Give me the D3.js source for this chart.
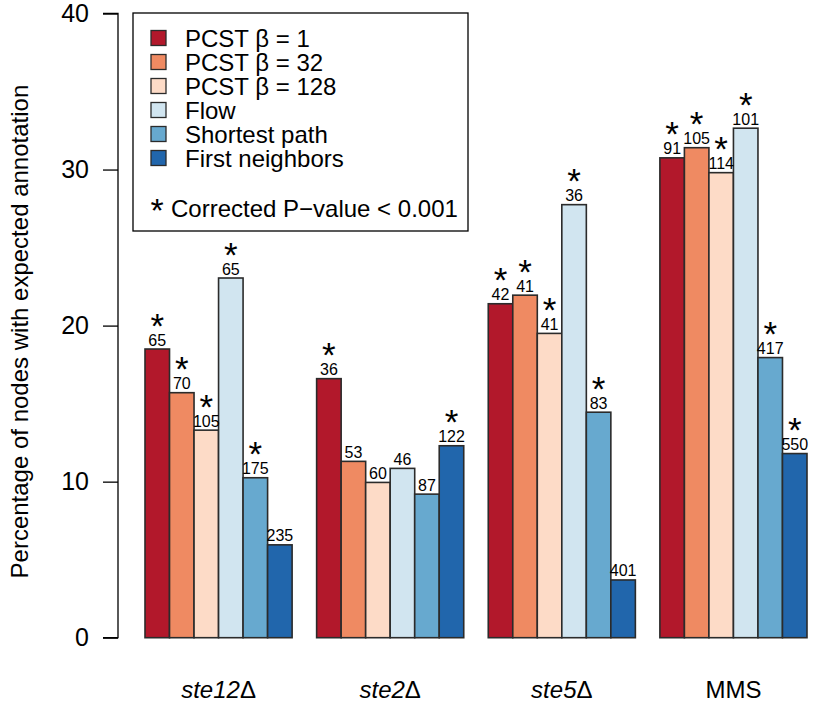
<!DOCTYPE html>
<html>
<head>
<meta charset="utf-8">
<script src="https://cdn.jsdelivr.net/npm/d3@7"></script>
<style>
  html, body { margin: 0; padding: 0; background: #fff; }
  svg text { font-family: "Liberation Sans", Arial, Helvetica, sans-serif; }
</style>
</head>
<body>
<svg id="chart" width="818" height="705"></svg>
<script>
// ---- data ----
const categories = ["ste12", "ste2", "ste5", "MMS"];
const categoryItalic = [true, true, true, false];
const categoryDelta = [true, true, true, false];

const seriesNames = ["PCST \u03B2 = 1", "PCST \u03B2 = 32", "PCST \u03B2 = 128", "Flow", "Shortest path", "First neighbors"];
const seriesColors = ["#B2182B", "#EF8A62", "#FDDBC7", "#D1E5F0", "#67A9CF", "#2166AC"];

// percentage per series, in category order
const pcst1Values   = [18.5, 16.6, 21.4, 30.75];
const pcst32Values  = [15.7, 11.3, 21.95, 31.4];
const pcst128Values = [13.3, 9.95, 19.5, 29.8];
const flowValues    = [23.05, 10.85, 27.75, 32.65];
const shortestValues= [10.25, 9.2, 14.45, 17.95];
const neighborValues= [5.95, 12.3, 3.7, 11.8];

// node counts shown above bars
const pcst1Counts   = [65, 36, 42, 91];
const pcst32Counts  = [70, 53, 41, 105];
const pcst128Counts = [105, 60, 41, 114];
const flowCounts    = [65, 46, 36, 101];
const shortestCounts= [175, 87, 83, 417];
const neighborCounts= [235, 122, 401, 550];

// significance (corrected P < 0.001)
const pcst1Sig   = [1, 1, 1, 1];
const pcst32Sig  = [1, 0, 1, 1];
const pcst128Sig = [1, 0, 1, 1];
const flowSig    = [1, 0, 1, 1];
const shortestSig= [1, 0, 1, 1];
const neighborSig= [0, 1, 0, 1];

const yTicks = [0, 10, 20, 30, 40];
const yTitle = "Percentage of nodes with expected annotation";
const legendNote = "Corrected P\u2212value < 0.001";

// ---- build table ----
const valuesBySeries = [pcst1Values, pcst32Values, pcst128Values, flowValues, shortestValues, neighborValues];
const countsBySeries = [pcst1Counts, pcst32Counts, pcst128Counts, flowCounts, shortestCounts, neighborCounts];
const sigBySeries = [pcst1Sig, pcst32Sig, pcst128Sig, flowSig, shortestSig, neighborSig];

const bars = [];
categories.forEach((c, ci) => {
  seriesNames.forEach((s, si) => {
    bars.push({cat: c, ci, si, value: valuesBySeries[si][ci], count: countsBySeries[si][ci], sig: sigBySeries[si][ci]});
  });
});

// ---- layout ----
const svg = d3.select("#chart");
const font = "'Liberation Sans', Arial, Helvetica, sans-serif";

const y = d3.scaleLinear().domain([0, 40]).range([637.7, 13.5]);
// R barplot beside=TRUE: bar width 1, gap 1 between groups
const nS = seriesNames.length;
const x = d3.scaleLinear().domain([0, categories.length * (nS + 1) - 1]).range([145, 807]);
const barPos = d => d.ci * (nS + 1) + d.si;

// bars
svg.append("g").selectAll("rect").data(bars).join("rect")
  .attr("x", d => x(barPos(d)))
  .attr("y", d => y(d.value))
  .attr("width", d => x(barPos(d) + 1) - x(barPos(d)))
  .attr("height", d => y(0) - y(d.value))
  .attr("fill", d => seriesColors[d.si])
  .attr("stroke", "#2b2b2b")
  .attr("stroke-width", 1.6);

// counts
svg.append("g").selectAll("text").data(bars).join("text")
  .attr("x", d => x(barPos(d) + 0.5))
  .attr("y", d => y(d.value) - 3.5)
  .attr("text-anchor", "middle")
  .attr("font-size", 16)
  .attr("fill", "#000")
  .text(d => d.count);

// stars
svg.append("g").selectAll("text").data(bars.filter(d => d.sig)).join("text")
  .attr("x", d => x(barPos(d) + 0.5))
  .attr("y", d => y(d.value) - 11.5)
  .attr("text-anchor", "middle")
  .attr("font-size", 35)
  .attr("fill", "#000")
  .text("*");

// y axis
const yAxis = d3.axisLeft(y).tickValues(yTicks).tickSize(15).tickPadding(14).tickFormat(d3.format("d"));
const gy = svg.append("g").attr("transform", "translate(118,0)").call(yAxis);
gy.select(".domain").attr("d", `M-15,${y(0)}H0V${y(40)}H-15`).attr("stroke", "#000").attr("stroke-width", 1.3).attr("fill", "none");
gy.selectAll(".tick line").attr("stroke", "#000").attr("stroke-width", 1.3);
gy.selectAll(".tick text").attr("font-size", 25).attr("fill", "#000").attr("font-family", font);

// y title
svg.append("text")
  .attr("transform", `translate(28,${(y(0) + y(40)) / 2 + 6}) rotate(-90)`)
  .attr("text-anchor", "middle")
  .attr("font-size", 24)
  .attr("fill", "#000")
  .text(yTitle);

// x labels
const xl = svg.append("g").selectAll("text").data(categories).join("text")
  .attr("x", (d, i) => (x(i * (nS + 1)) + x(i * (nS + 1) + nS)) / 2)
  .attr("y", 698)
  .attr("text-anchor", "middle")
  .attr("font-size", 24)
  .attr("fill", "#000");
xl.each(function(d, i) {
  const t = d3.select(this);
  t.append("tspan").attr("font-style", categoryItalic[i] ? "italic" : "normal").text(d);
  if (categoryDelta[i]) t.append("tspan").text("\u0394");
});

// legend
const lg = svg.append("g");
lg.append("rect").attr("x", 133).attr("y", 13).attr("width", 335).attr("height", 218)
  .attr("fill", "#fff").attr("stroke", "#000").attr("stroke-width", 1.3);
seriesNames.forEach((s, i) => {
  const cy = 38 + i * 24;
  lg.append("rect").attr("x", 151).attr("y", cy - 7.5).attr("width", 15).attr("height", 15)
    .attr("fill", seriesColors[i]).attr("stroke", "#2b2b2b").attr("stroke-width", 1.3);
  lg.append("text").attr("x", 185).attr("y", cy + 8.5).attr("font-size", 24).attr("fill", "#000").text(s);
});
lg.append("text").attr("x", 157).attr("y", 222).attr("text-anchor", "middle").attr("font-size", 34).attr("fill", "#000").text("*");
lg.append("text").attr("x", 171).attr("y", 217).attr("font-size", 24).attr("fill", "#000").text(legendNote);
</script>
</body>
</html>
